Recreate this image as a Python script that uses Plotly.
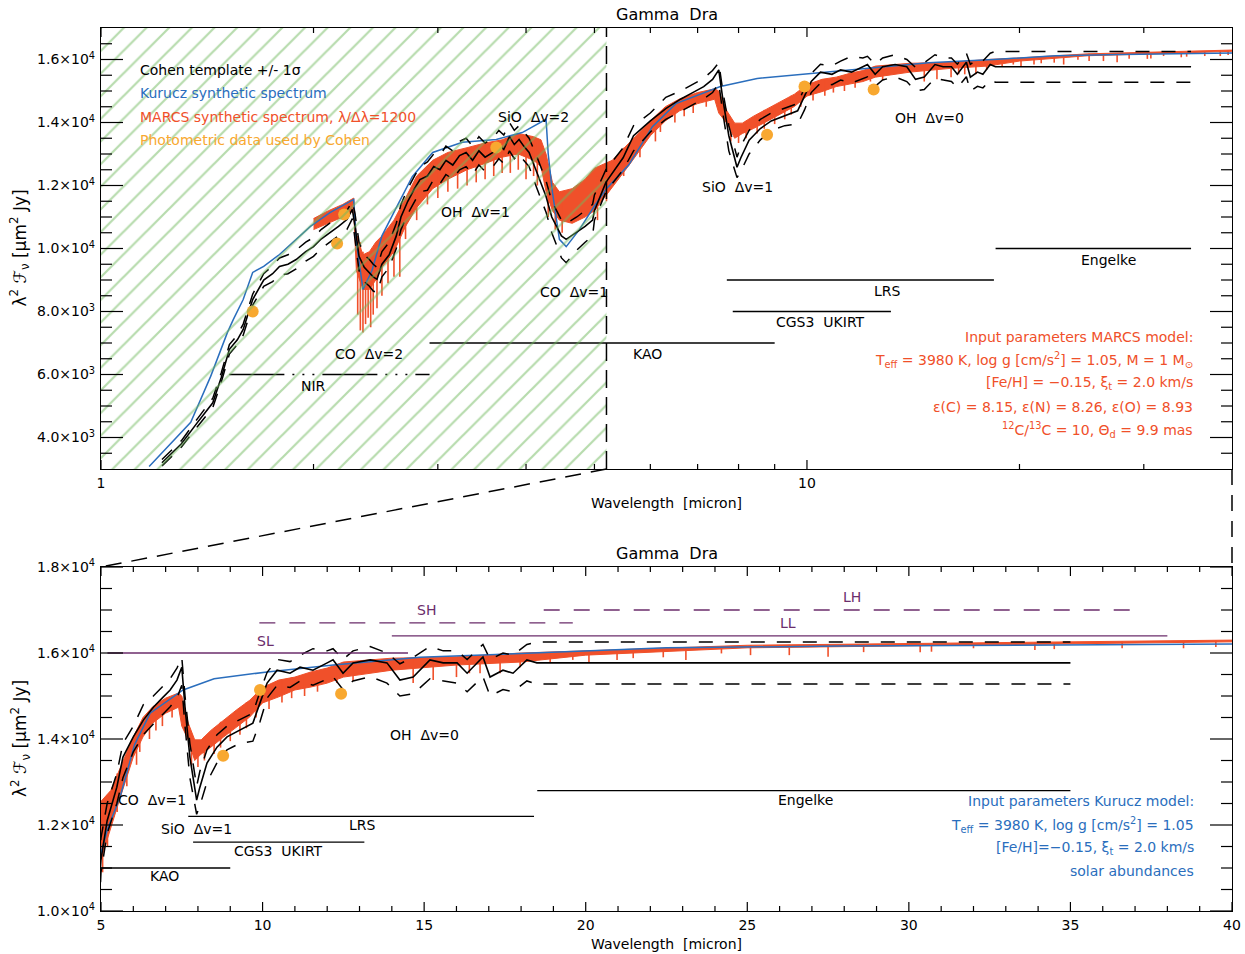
import numpy as np
import plotly.graph_objects as go

# ---------------- spectra (wavelength in micron, lambda^2 F_nu in um^2 Jy) ----------------
cohen_wl = [1.22, 1.30, 1.37, 1.44, 1.48, 1.52, 1.56, 1.59, 1.64, 1.70, 1.75, 1.79, 1.84, 1.89,
            1.95, 2.00, 2.05, 2.11, 2.17, 2.23, 2.27, 2.29, 2.32, 2.36, 2.40, 2.43, 2.46, 2.50,
            2.56, 2.62, 2.66, 2.72, 2.78, 2.83, 2.90, 2.96, 3.02, 3.08, 3.15, 3.22, 3.29, 3.36,
            3.43, 3.50, 3.59, 3.66, 3.72, 3.79, 3.85, 3.91, 3.97, 4.04, 4.13, 4.20, 4.27, 4.35,
            4.42, 4.49, 4.56, 4.64, 4.72, 4.85, 4.97, 5.00, 5.19, 5.49, 5.68, 6.00, 6.31, 6.62,
            6.93, 7.14, 7.35, 7.50, 7.60, 7.75, 7.96, 8.06, 8.28, 8.59, 8.90, 9.30, 9.70, 9.92,
            10.14, 10.45, 10.85, 11.16, 11.56, 12.00, 12.18, 12.49, 12.80, 13.33, 13.85, 14.25,
            14.66, 15.18, 15.59, 16.02, 16.33, 16.82, 17.04, 17.44, 17.75, 18.18, 18.49, 35.0]
cohen_flux = [3200, 3800, 4480, 5100, 5900, 6800, 7100, 7430, 8380, 9000, 9200, 9430, 9500, 9650,
              9900, 10060, 10300, 10500, 10700, 10920, 11240, 10700, 9750, 9400, 9240, 9100, 9020, 9500,
              9800, 10400, 11000, 11500, 11900, 12190, 12300, 12600, 12500, 12800, 12650, 12950, 13050, 12800,
              13100, 12900, 13050, 13300, 13150, 13550, 13300, 13460, 13250, 13050, 12500, 12100, 11650, 11000,
              10700, 10400, 10290, 10400, 10500, 10700, 10900, 11200, 12100, 12880, 13580, 14050, 14440, 14740,
              14980, 15140, 15370, 15670, 14740, 13580, 12580, 12880, 13440, 13810, 14050, 14210, 14370, 14840,
              15300, 15600, 15530, 15670, 15600, 15770, 15840, 15530, 15770, 15840, 15770, 15370,
              15440, 15840, 15770, 15770, 15530, 15910, 15440, 15600, 15530, 15840, 15770, 15770]
cohen_hi = [3300, 3900, 4600, 5250, 6050, 6950, 7250, 7600, 8550, 9200, 9450, 9700, 9800, 9950,
            10200, 10350, 10600, 10800, 11000, 11200, 11500, 11100, 10200, 9800, 9650, 9500, 9400, 9900,
            10200, 10800, 11400, 11900, 12300, 12600, 12750, 13000, 12950, 13250, 13100, 13400, 13500, 13250,
            13550, 13350, 13500, 13750, 13600, 14000, 13750, 13900, 13700, 13500, 13000, 12600, 12150, 11500,
            11200, 10900, 10800, 10900, 11000, 11200, 11400, 11700, 12500, 13200, 13900, 14300, 14800, 15000,
            15250, 15400, 15650, 15900, 15000, 13900, 12900, 13250, 13750, 14100, 14300, 14450, 14600, 15100,
            15550, 15850, 15800, 15950, 16100, 16050, 16100, 15850, 16050, 16150, 16000, 15750,
            15900, 16150, 16050, 16050, 15850, 16200, 15850, 16000, 15950, 16200, 16256, 16256]
cohen_lo = [3100, 3700, 4350, 4950, 5750, 6650, 6950, 7250, 8200, 8800, 8950, 9150, 9200, 9350,
            9600, 9750, 10000, 10200, 10400, 10600, 10950, 10300, 9300, 8950, 8800, 8650, 8600, 9100,
            9400, 10000, 10600, 11100, 11500, 11800, 11850, 12200, 12050, 12350, 12200, 12500, 12600, 12350,
            12650, 12450, 12600, 12850, 12700, 13100, 12850, 13000, 12800, 12600, 12000, 11600, 11150, 10500,
            10100, 9700, 9550, 9750, 9950, 10200, 10400, 10900, 11800, 12500, 13100, 13700, 14100, 14350,
            14600, 14750, 14950, 15250, 14300, 13100, 12250, 12450, 13000, 13450, 13750, 13900, 13950, 14400,
            14950, 15250, 15200, 15350, 15250, 15400, 15450, 15150, 15350, 15450, 15300, 15000,
            15050, 15400, 15350, 15300, 15100, 15450, 15000, 15150, 15100, 15350, 15279, 15279]

kurucz_wl = [1.17, 1.34, 1.43, 1.51, 1.54, 1.59, 1.64, 1.70, 1.79, 1.89, 1.98, 2.11, 2.28, 2.30,
             2.35, 2.42, 2.50, 2.62, 2.76, 2.95, 3.25, 3.63, 3.95, 4.27, 4.30, 4.36, 4.46, 4.56,
             4.76, 5.00, 5.20, 5.59, 6.04, 6.52, 7.54, 8.50, 10.14, 12.19, 14.87, 18.37, 22.5,
             27.87, 40.0]
kurucz_flux = [3080, 4480, 5940, 7330, 7750, 8380, 9240, 9430, 9810, 10290, 10700, 11140, 11560, 10200,
               8700, 9300, 10400, 11300, 12280, 13050, 13370, 13460, 13680, 14100, 13000, 11780, 10290, 10060,
               10600, 11350, 11900, 12650, 13870, 14600, 15140, 15400, 15560, 15720, 15900, 16000, 16120,
               16160, 16210]

# MARCS spectrum: envelope of the dense line forest, plus individual deep lines
marcs_wl = [2.00, 2.10, 2.20, 2.28, 2.30, 2.35, 2.40, 2.45, 2.50, 2.60, 2.70, 2.80, 2.95, 3.10,
            3.30, 3.50, 3.70, 3.90, 4.10, 4.20, 4.27, 4.36, 4.46, 4.65, 4.85, 5.00, 5.30, 5.60,
            6.00, 6.30, 6.60, 7.00, 7.40, 7.50, 7.70, 7.90, 8.10, 8.40, 8.80, 9.20, 9.60, 10.0,
            10.5, 11.0, 11.5, 12.0, 12.5, 14.0, 16.0, 18.0, 20.0, 25.0, 30.0, 35.0, 40.0]
marcs_hi = [10950, 11200, 11400, 11600, 10400, 9800, 9900, 10200, 10400, 10900, 11600, 12300, 12800, 13050,
            13200, 13350, 13450, 13650, 13550, 13450, 13000, 12100, 11800, 11900, 12200, 12550, 12800, 13350,
            14050, 14500, 14750, 14950, 15070, 15000, 14370, 13980, 13980, 14200, 14450, 14680, 14900, 15200,
            15370, 15440, 15560, 15650, 15790, 15880, 15910, 16000, 16050, 16180, 16220, 16260, 16300]
marcs_lo = [10600, 10800, 11000, 11200, 9300, 8700, 8700, 9000, 9400, 9900, 10700, 11300, 11900, 12200,
            12500, 12700, 12900, 13000, 12800, 12600, 11800, 11200, 10900, 10800, 11000, 11200, 11950, 12650,
            13580, 14050, 14370, 14600, 14740, 14300, 13980, 13500, 13650, 13810, 14050, 14280, 14510, 14840,
            14980, 15140, 15210, 15300, 15440, 15600, 15720, 15790, 15950, 16120, 16170, 16220, 16260]

line_wl = [2.31, 2.33, 2.35, 2.37, 2.39, 2.41, 2.43, 2.46, 2.50, 2.55, 2.60, 2.65,
           2.70, 2.80, 2.90, 3.00, 3.10, 3.20, 3.30, 3.40, 3.50, 3.60, 3.70, 3.80, 3.90, 4.00,
           4.10, 4.15, 4.30, 4.40, 4.50,
           5.05, 5.20, 5.40, 5.50, 5.80, 6.10, 6.20, 6.50, 6.70, 6.90, 7.20,
           7.80, 8.00, 8.20, 8.50, 8.70, 9.00, 9.30, 9.50, 9.80, 10.2, 10.6, 10.9, 11.3, 11.7,
           12.3, 12.8, 13.7, 14.66, 15.28, 16.0, 16.4, 16.73, 17.35, 17.97, 18.9, 19.6, 20.1,
           20.97, 21.47, 22.4, 23.1, 24.2, 25.1, 26.3, 27.5, 28.6, 30.35, 30.7, 32.0, 33.9,
           34.5, 36.6, 38.5, 39.5]
line_top = [10400, 10200, 9900, 9800, 9800, 9900, 10000, 10100, 10300, 10600, 10800, 11100,
            11600, 12200, 12600, 12700, 13000, 12950, 13150, 13100, 13300, 13300, 13400, 13400, 13600, 13500,
            13500, 13400, 12600, 12000, 11800,
            12300, 12700, 13000, 13200, 13600, 14150, 14300, 14650, 14800, 14900, 15000,
            14100, 13950, 14050, 14250, 14400, 14550, 14700, 14850, 15000, 15250, 15380, 15430, 15500, 15590,
            15700, 15750, 15850, 15880, 15890, 15910, 15920, 15930, 15950, 15990, 16020, 16040, 16050,
            16080, 16090, 16110, 16120, 16150, 16180, 16190, 16200, 16210, 16220, 16220, 16230, 16250,
            16250, 16270, 16280, 16290]
line_bottom = [7900, 7400, 7330, 7600, 7800, 7500, 7900, 8100, 8500, 8900, 9100, 9100,
               10300, 10900, 11400, 11600, 11800, 11900, 12000, 12100, 12200, 12300, 12400, 12400, 12500, 12200,
               12300, 12000, 11000, 10600, 10500,
               10900, 11500, 12200, 12300, 12900, 13400, 13700, 14000, 14200, 14300, 14500,
               13400, 13350, 13500, 13650, 13800, 13950, 14100, 14250, 14500, 14700, 14850, 14950, 15000, 15100,
               15300, 15350, 15600, 15300, 15370, 15440, 15530, 15530, 15530, 15670, 15770, 15840, 15770,
               15840, 15880, 15900, 15840, 15990, 15950, 15950, 15910, 16020, 16020, 16030, 16110, 16070,
               16090, 16110, 16110, 16140]

phot_wl = [1.64, 2.16, 2.21, 3.63, 8.78, 9.92, 12.43]
phot_flux = [8000, 10160, 11080, 13210, 13610, 15140, 15050]

# instrument coverage bars
top_bar_names = ["NIR", "KAO", "CGS3  UKIRT", "LRS", "Engelke"]
top_bar_start = [1.52, 2.92, 7.85, 7.70, 18.5]
top_bar_end = [2.92, 9.0, 13.15, 18.4, 35.0]
top_bar_level = [6000, 7000, 8000, 9000, 10000]
top_bar_label_x = [2.0, 5.94, 10.46, 13.02, 26.74]
top_bar_label_y = [5650, 6666, 7682, 8666, 9650]

bot_bar_names = ["KAO", "CGS3  UKIRT", "LRS", "Engelke"]
bot_bar_start = [2.92, 7.85, 7.70, 18.5]
bot_bar_end = [9.0, 13.15, 18.4, 35.0]
bot_bar_level = [11000, 11600, 12200, 12800]
bot_bar_label_x = [6.98, 10.48, 13.08, 26.79]
bot_bar_label_y = [10813, 11394, 11999, 12580]

irs_names = ["SL", "LL", "SH", "LH"]
irs_start = [5.2, 14.0, 9.9, 18.7]
irs_end = [14.5, 38.0, 19.6, 37.0]
irs_level = [16000, 16400, 16700, 17000]
irs_dashed = [False, False, True, True]
irs_label_x = [10.1, 26.26, 15.06, 28.24]
irs_label_y = [16279, 16697, 17000, 17302]

# molecular band labels
top_band_names = ["CO  Δv=2", "OH  Δv=1", "SiO  Δv=2", "CO  Δv=1", "SiO  Δv=1", "OH  Δv=0"]
top_band_x = [2.40, 3.39, 4.10, 4.68, 7.96, 14.93]
top_band_y = [6666, 11174, 14190, 8634, 11968, 14158]
bot_band_names = ["CO  Δv=1", "SiO  Δv=1", "OH  Δv=0"]
bot_band_x = [6.58, 7.97, 15.0]
bot_band_y = [12580, 11906, 14092]

# axis ticks
top_x_major = [1, 10]
top_x_minor = [2, 3, 4, 5, 6, 7, 8, 9, 20, 30, 40]
top_y_major = [4000, 6000, 8000, 10000, 12000, 14000, 16000]
top_y_text = ["4.0×10<sup>3</sup>", "6.0×10<sup>3</sup>", "8.0×10<sup>3</sup>", "1.0×10<sup>4</sup>",
              "1.2×10<sup>4</sup>", "1.4×10<sup>4</sup>", "1.6×10<sup>4</sup>"]
bot_x_major = [5, 10, 15, 20, 25, 30, 35, 40]
bot_y_major = [10000, 12000, 14000, 16000, 18000]
bot_y_text = ["1.0×10<sup>4</sup>", "1.2×10<sup>4</sup>", "1.4×10<sup>4</sup>", "1.6×10<sup>4</sup>",
              "1.8×10<sup>4</sup>"]

hatch_end = 5.2  # upper wavelength of the hatched near-IR region
X_MAX = 40.0

RED = "#f0502a"
BLUE = "#2a6ebd"
ORANGE = "#f8a830"
PURPLE = "#6b2d6b"
GREEN = "#6fb85c"
FONT = "DejaVu Sans"

W, H = 1245, 954
X_DOM = [101 / W, 1232 / W]
TOP_DOM = [1 - 469 / H, 1 - 28 / H]
BOT_DOM = [1 - 911 / H, 1 - 567 / H]

fig = go.Figure()
common = dict(showlegend=False, hoverinfo="skip")

for xa, ya in (("x", "y"), ("x2", "y2")):
    fig.add_trace(go.Scatter(x=marcs_wl, y=marcs_hi, mode="lines", line=dict(color=RED, width=1),
                             xaxis=xa, yaxis=ya, **common))
    fig.add_trace(go.Scatter(x=marcs_wl, y=marcs_lo, mode="lines", line=dict(color=RED, width=1),
                             fill="tonexty", fillcolor=RED, xaxis=xa, yaxis=ya, **common))
    sx, sy = [], []
    for w, t, b in zip(line_wl, line_top, line_bottom):
        sx += [w, w, None]
        sy += [t, b, None]
    fig.add_trace(go.Scatter(x=sx, y=sy, mode="lines", line=dict(color=RED, width=1.6),
                             xaxis=xa, yaxis=ya, **common))
    fig.add_trace(go.Scatter(x=kurucz_wl, y=kurucz_flux, mode="lines", line=dict(color=BLUE, width=1.5),
                             xaxis=xa, yaxis=ya, **common))
    for band in (cohen_hi, cohen_lo):
        fig.add_trace(go.Scatter(x=cohen_wl, y=band, mode="lines",
                                 line=dict(color="black", width=1.5, dash="14px,12px"),
                                 xaxis=xa, yaxis=ya, **common))
    fig.add_trace(go.Scatter(x=cohen_wl, y=cohen_flux, mode="lines", line=dict(color="black", width=1.6),
                             xaxis=xa, yaxis=ya, **common))
    fig.add_trace(go.Scatter(x=phot_wl, y=phot_flux, mode="markers",
                             marker=dict(color=ORANGE, size=12, line=dict(width=0)),
                             xaxis=xa, yaxis=ya, **common))

# instrument bars, upper panel
for name, a, b, lev in zip(top_bar_names, top_bar_start, top_bar_end, top_bar_level):
    dash = "55px,8px,2px,8px,2px,8px,2px,8px" if name == "NIR" else "solid"
    fig.add_trace(go.Scatter(x=[a, b], y=[lev, lev], mode="lines",
                             line=dict(color="black", width=1.3, dash=dash),
                             xaxis="x", yaxis="y", **common))
# instrument bars, lower panel
for a, b, lev in zip(bot_bar_start, bot_bar_end, bot_bar_level):
    fig.add_trace(go.Scatter(x=[a, b], y=[lev, lev], mode="lines", line=dict(color="black", width=1.3),
                             xaxis="x2", yaxis="y2", **common))
for a, b, lev, dashed in zip(irs_start, irs_end, irs_level, irs_dashed):
    fig.add_trace(go.Scatter(x=[a, b], y=[lev, lev], mode="lines",
                             line=dict(color=PURPLE, width=1.3, dash="16px,14px" if dashed else "solid"),
                             xaxis="x2", yaxis="y2", **common))

# hatched near-IR region and its boundary
fig.add_trace(go.Scatter(x=[1, hatch_end, hatch_end, 1, 1], y=[3000, 3000, 17000, 17000, 3000],
                         mode="lines", line=dict(width=0), fill="toself", fillcolor="rgba(0,0,0,0)",
                         fillpattern=dict(shape="/", fgcolor=GREEN, bgcolor="rgba(0,0,0,0)",
                                          size=16, solidity=0.14),
                         xaxis="x", yaxis="y", **common))
fig.add_trace(go.Scatter(x=[hatch_end, hatch_end], y=[3000, 17000], mode="lines",
                         line=dict(color="black", width=1.5, dash="18px,9px"),
                         xaxis="x", yaxis="y", **common))

ann = []


def label(x, y, text, xref, yref, color="black", xanchor="center", size=14, angle=0):
    ann.append(dict(x=x, y=y, text=text, xref=xref, yref=yref, showarrow=False,
                    xanchor=xanchor, yanchor="middle", textangle=angle,
                    font=dict(family=FONT, size=size, color=color)))


for n, x, y in zip(top_band_names, top_band_x, top_band_y):
    label(np.log10(x), y, n, "x", "y")
for n, x, y in zip(top_bar_names, top_bar_label_x, top_bar_label_y):
    label(np.log10(x), y, n, "x", "y")
for n, x, y in zip(bot_band_names, bot_band_x, bot_band_y):
    label(x, y, n, "x2", "y2")
for n, x, y in zip(bot_bar_names, bot_bar_label_x, bot_bar_label_y):
    label(x, y, n, "x2", "y2")
for n, x, y in zip(irs_names, irs_label_x, irs_label_y):
    label(x, y, n, "x2", "y2", color=PURPLE)

legend_lines = [("Cohen template +/- 1σ", "black"), ("Kurucz synthetic spectrum", BLUE),
                ("MARCS synthetic spectrum, λ/Δλ=1200", RED), ("Photometric data used by Cohen", ORANGE)]
legend_y = [15682, 14952, 14190, 13460]
for (t, c), y in zip(legend_lines, legend_y):
    label(np.log10(1.128), y, t, "x", "y", color=c, xanchor="left")

marcs_text = ["Input parameters MARCS model:",
              "T<sub>eff</sub> = 3980 K, log g [cm/s<sup>2</sup>] = 1.05, M = 1 M<sub>⊙</sub>",
              "[Fe/H] = −0.15, ξ<sub>t</sub> = 2.0 km/s",
              "ε(C) = 8.15, ε(N) = 8.26, ε(O) = 8.93",
              "<sup>12</sup>C/<sup>13</sup>C = 10, Θ<sub>d</sub> = 9.9 mas"]
marcs_y = [7205, 6475, 5745, 4983, 4253]
for t, y in zip(marcs_text, marcs_y):
    label(np.log10(35.4), y, t, "x", "y", color=RED, xanchor="right")

kurucz_text = ["Input parameters Kurucz model:",
               "T<sub>eff</sub> = 3980 K, log g [cm/s<sup>2</sup>] = 1.05",
               "[Fe/H]=−0.15, ξ<sub>t</sub> = 2.0 km/s",
               "solar abundances"]
kurucz_y = [12557, 11999, 11464, 10929]
for t, y in zip(kurucz_text, kurucz_y):
    label(38.89, y, t, "x2", "y2", color=BLUE, xanchor="right")

# titles
for y in (1 - 14 / H, 1 - 553 / H):
    label(0.5 * (X_DOM[0] + X_DOM[1]), y, "Gamma  Dra", "paper", "paper", size=16)
for y in (1 - 503 / H, 1 - 944 / H):
    label(0.5 * (X_DOM[0] + X_DOM[1]), y, "Wavelength  [micron]", "paper", "paper")
for dom in (TOP_DOM, BOT_DOM):
    label(20 / W, 0.5 * (dom[0] + dom[1]), "λ<sup>2</sup> ℱ<sub>ν</sub> [μm<sup>2</sup> Jy]",
          "paper", "paper", size=17, angle=-90)

# dashed zoom connectors between the panels
x_hatch_paper = X_DOM[0] + np.log10(hatch_end) / np.log10(X_MAX) * (X_DOM[1] - X_DOM[0])
shapes = [
    dict(type="line", xref="paper", yref="paper", x0=x_hatch_paper, y0=TOP_DOM[0],
         x1=X_DOM[0], y1=BOT_DOM[1], line=dict(color="black", width=1.5, dash="16px,10px")),
    dict(type="line", xref="paper", yref="paper", x0=X_DOM[1], y0=TOP_DOM[0],
         x1=X_DOM[1], y1=BOT_DOM[1], line=dict(color="black", width=1.5, dash="16px,10px")),
]

# inward tick marks on all four sides of each panel
plot_w = (X_DOM[1] - X_DOM[0]) * W
tick_line = dict(color="black", width=1.2)


def y_ticks(xref, yref, values, length_px):
    f = length_px / plot_w
    for v in values:
        shapes.append(dict(type="line", xref=xref + " domain", yref=yref, x0=0, x1=f, y0=v, y1=v,
                           line=tick_line))
        shapes.append(dict(type="line", xref=xref + " domain", yref=yref, x0=1 - f, x1=1, y0=v, y1=v,
                           line=tick_line))


def x_ticks(xref, yref, fractions, length_px, dom):
    f = length_px / ((dom[1] - dom[0]) * H)
    for p in fractions:
        shapes.append(dict(type="line", xref=xref + " domain", yref=yref + " domain", x0=p, x1=p,
                           y0=0, y1=f, line=tick_line))
        shapes.append(dict(type="line", xref=xref + " domain", yref=yref + " domain", x0=p, x1=p,
                           y0=1 - f, y1=1, line=tick_line))


y_ticks("x", "y", top_y_major, 22)
y_ticks("x", "y", [v for v in range(3500, 17000, 500) if v not in top_y_major], 11)
y_ticks("x2", "y2", bot_y_major, 22)
y_ticks("x2", "y2", [v for v in range(10500, 18000, 500) if v not in bot_y_major], 11)
x_ticks("x", "y", [np.log10(v) / np.log10(X_MAX) for v in top_x_major], 9, TOP_DOM)
x_ticks("x", "y", [np.log10(v) / np.log10(X_MAX) for v in top_x_minor if v < X_MAX], 5, TOP_DOM)
x_ticks("x2", "y2", [(v - 5) / (X_MAX - 5) for v in bot_x_major], 9, BOT_DOM)
x_ticks("x2", "y2", [(v - 5) / (X_MAX - 5) for v in range(6, 40) if v % 5], 5, BOT_DOM)

axis_common = dict(showline=True, linecolor="black", linewidth=1.2, mirror=True, ticks="",
                   showgrid=False, zeroline=False,
                   tickfont=dict(family=FONT, size=14, color="black"))

fig.update_layout(
    width=W, height=H, margin=dict(l=0, r=0, t=0, b=0, autoexpand=False),
    paper_bgcolor="white", plot_bgcolor="white", showlegend=False,
    annotations=ann, shapes=shapes,
    xaxis=dict(axis_common, type="log", range=[0, np.log10(X_MAX)], domain=X_DOM, anchor="y",
               tickmode="array", tickvals=top_x_major, ticktext=["1", "10"], ticklabelstandoff=1),
    yaxis=dict(axis_common, range=[3000, 17000], domain=TOP_DOM, anchor="x",
               tickmode="array", tickvals=top_y_major, ticktext=top_y_text, ticklabelstandoff=2),
    xaxis2=dict(axis_common, range=[5, X_MAX], domain=X_DOM, anchor="y2",
                tickmode="array", tickvals=bot_x_major, ticklabelstandoff=1),
    yaxis2=dict(axis_common, range=[10000, 18000], domain=BOT_DOM, anchor="x2",
                tickmode="array", tickvals=bot_y_major, ticktext=bot_y_text, ticklabelstandoff=2),
)

fig.write_html("out.html")
